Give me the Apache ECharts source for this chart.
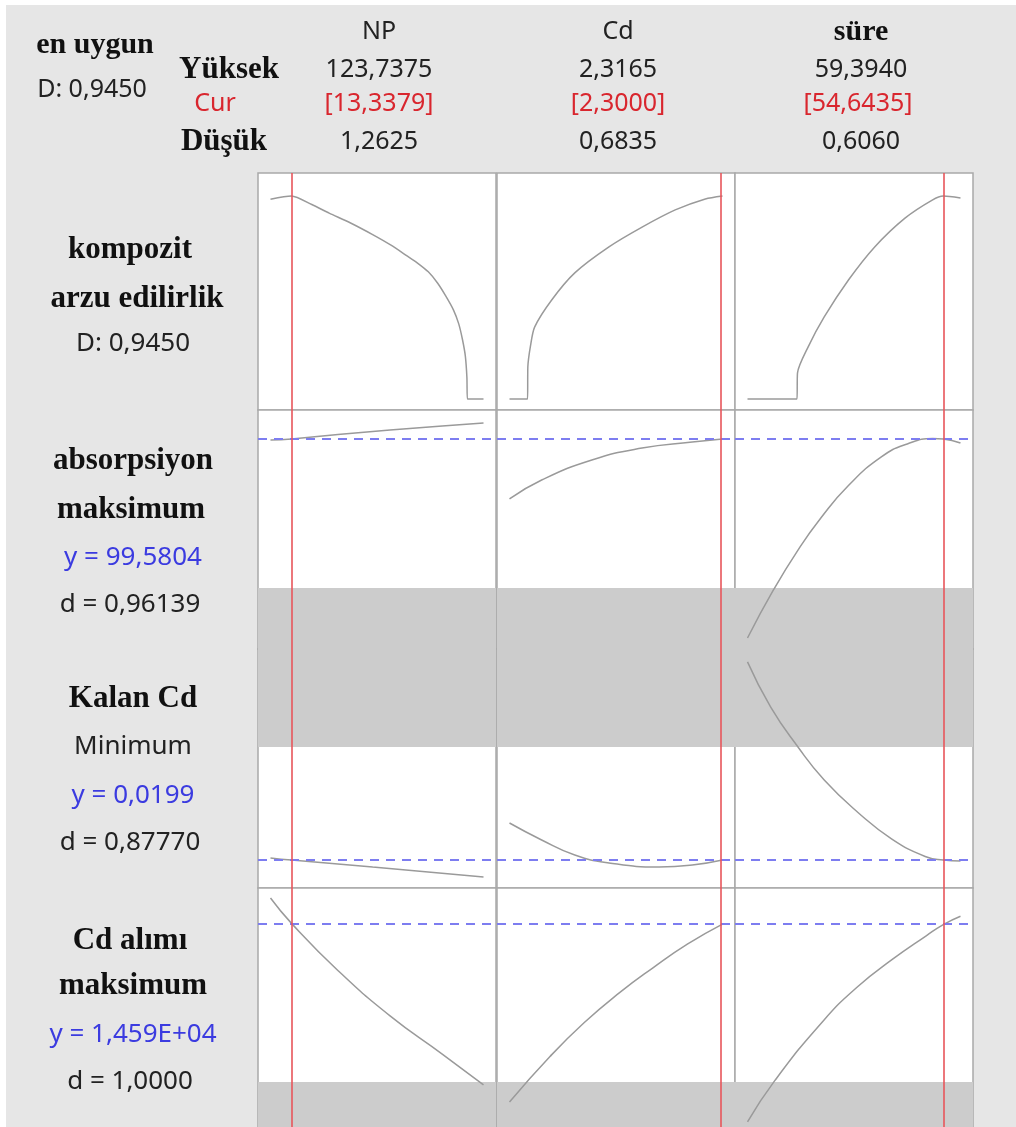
<!DOCTYPE html>
<html>
<head>
<meta charset="utf-8">
<script src="https://cdn.jsdelivr.net/npm/echarts@6/dist/echarts.min.js"></script>
<style>
  html, body { margin: 0; padding: 0; background: #e6e6e6; overflow: hidden; }
  #chart { width: 1016px; height: 1127px; }
</style>
</head>
<body>
<div id="chart"></div>
<script>
// faktörler
const factors = ['NP', 'Cd', 'süre']
const factorLow = [1.2625, 0.6835, 0.606]
const factorHigh = [123.7375, 2.3165, 59.394]
const factorCur = [13.3379, 2.3, 54.6435]
const highLabels = ['123,7375', '2,3165', '59,3940']
const curLabels = ['[13,3379]', '[2,3000]', '[54,6435]']
const lowLabels = ['1,2625', '0,6835', '0,6060']

// kompozit arzu edilirlik (D)
const compositeNP = [[1.26, 0.93], [13.34, 0.945], [25, 0.905], [35, 0.865], [47.3, 0.819], [60, 0.765], [70.3, 0.717], [80, 0.665], [85.8, 0.633], [92, 0.592], [97.3, 0.54], [102, 0.48], [106.5, 0.414], [109.5, 0.35], [111.7, 0.275], [113.3, 0.2], [114.2, 0.1], [114.5, 0], [123.74, 0]]
const compositeCd = [[0.6835, 0], [0.822, 0], [0.824, 0.149], [0.845, 0.25], [0.876, 0.335], [1.007, 0.461], [1.184, 0.587], [1.446, 0.708], [1.7, 0.8], [1.954, 0.88], [2.185, 0.931], [2.3165, 0.945]]
const compositeSure = [[0.606, 0], [14.26, 0], [14.4, 0.121], [17.32, 0.242], [21.78, 0.382], [28.47, 0.554], [35.71, 0.708], [44.07, 0.842], [51.59, 0.926], [54.64, 0.945], [59.39, 0.936]]

// absorpsiyon (hücre yüksekliğine göre)
const absorpNP = [[1.26, 0.874], [13.34, 0.879], [40, 0.897], [70, 0.916], [100, 0.933], [123.74, 0.946]]
const absorpCd = [[0.6835, 0.628], [0.93, 0.707], [1.315, 0.791], [1.7, 0.841], [2.085, 0.866], [2.3165, 0.879]]
const absorpSure = [[0.606, 0.046], [7.84, 0.249], [14.54, 0.414], [20.95, 0.55], [28.47, 0.684], [37.64, 0.805], [44.7, 0.858], [51.75, 0.881], [54.64, 0.879], [59.39, 0.862]]
const absorpCur = 0.879
const absorpBand = [0, 0.255]

// kalan Cd
const kalanNP = [[1.26, 0.126], [13.34, 0.117], [60, 0.088], [123.74, 0.046]]
const kalanCd = [[0.6835, 0.272], [0.93, 0.201], [1.184, 0.138], [1.446, 0.105], [1.831, 0.088], [2.085, 0.096], [2.3165, 0.117]]
const kalanSure = [[0.606, 0.946], [7.01, 0.757], [14.54, 0.59], [21.78, 0.452], [31.25, 0.314], [40.45, 0.205], [49.64, 0.132], [54.64, 0.117], [59.39, 0.113]]
const kalanCur = 0.117
const kalanBand = [0.59, 1]

// Cd alımı
const alimNP = [[1.26, 0.958], [13.34, 0.852], [40, 0.655], [70, 0.465], [100, 0.305], [123.74, 0.176]]
const alimCd = [[0.6835, 0.105], [0.994, 0.295], [1.255, 0.436], [1.525, 0.561], [1.786, 0.667], [2.047, 0.765], [2.3165, 0.849]]
const alimSure = [[0.606, 0.021], [8.13, 0.194], [21.5, 0.444], [30.99, 0.587], [40.47, 0.7], [49.93, 0.8], [54.64, 0.847], [59.39, 0.882]]
const alimCur = 0.849
const alimBand = [0, 0.188]

const curves = [
  [compositeNP, compositeCd, compositeSure],
  [absorpNP, absorpCd, absorpSure],
  [kalanNP, kalanCd, kalanSure],
  [alimNP, alimCd, alimSure]
]
const rowCur = [null, absorpCur, kalanCur, alimCur]
const rowBand = [null, absorpBand, kalanBand, alimBand]

// sol etiketler
const rowLabels = [
  [['kompozit', 'b', 130, 250], ['arzu edilirlik', 'b', 137, 299], ['D: 0,9450', 'k', 133, 344]],
  [['absorpsiyon', 'b', 133, 461], ['maksimum', 'b', 131, 510], ['y = 99,5804', 'blue', 133, 558], ['d = 0,96139', 'k', 130, 605]],
  [['Kalan Cd', 'b', 133, 699], ['Minimum', 'k', 133, 747], ['y = 0,0199', 'blue', 133, 796], ['d = 0,87770', 'k', 130, 843]],
  [['Cd alımı', 'b', 130, 941], ['maksimum', 'b', 133, 986], ['y = 1,459E+04', 'blue', 133, 1035], ['d = 1,0000', 'k', 130, 1082]]
]

const rowTops = [173, 410, 649, 888]
const rowH = [237, 239, 239, 239]
const colLefts = [258, 497, 735]
const colW = 238
const colX = [379, 618, 861]

const serif = '"Liberation Serif", "DejaVu Serif", serif'
const sans = '"Noto Sans", "Open Sans", sans-serif'
const red = '#d9262e'
const blue = '#3b3be0'

const grids = []
const xAxes = []
const yAxes = []
const series = []

for (let r = 0; r < 4; r++) {
  for (let c = 0; c < 3; c++) {
    const i = r * 3 + c
    grids.push({
      left: colLefts[c], top: rowTops[r], width: colW, height: rowH[r],
      show: true, backgroundColor: '#ffffff', borderColor: '#a9a9a9', borderWidth: 1.5
    })
    const pad = (factorHigh[c] - factorLow[c]) * 12.5 / 213
    xAxes.push({ type: 'value', gridIndex: i, min: factorLow[c] - pad, max: factorHigh[c] + pad, show: false })
    yAxes.push(r === 0
      ? { type: 'value', gridIndex: i, min: -0.0507, max: 1.0518, show: false }
      : { type: 'value', gridIndex: i, min: 0, max: 1, show: false })

    const lines = [{ xAxis: factorCur[c], lineStyle: { color: '#e8555b', width: 1.6, type: 'solid' } }]
    if (rowCur[r] !== null) {
      lines.unshift({ yAxis: rowCur[r], lineStyle: { color: '#7d7df0', width: 2, type: [9, 7] } })
    }
    const s = {
      type: 'line', xAxisIndex: i, yAxisIndex: i, data: curves[r][c],
      showSymbol: false, smooth: r === 0 ? 0.25 : 0.5, silent: true,
      lineStyle: { color: '#9a9a9a', width: 1.5 },
      markLine: { symbol: ['none', 'none'], silent: true, label: { show: false }, data: lines },
      z: 3
    }
    if (rowBand[r]) {
      s.markArea = {
        silent: true,
        itemStyle: { color: '#cccccc' },
        data: [[{ yAxis: rowBand[r][0] }, { yAxis: rowBand[r][1] }]]
      }
    }
    series.push(s)
  }
}

const txt = (text, x, y, font, color, size, weight) => ({
  type: 'text', x: x, y: y, silent: true, z: 10,
  style: {
    text: text, fill: color, font: (weight || 'normal') + ' ' + size + 'px ' + font,
    textAlign: 'center', textVerticalAlign: 'middle'
  }
})

const graphic = [
  { type: 'rect', shape: { x: 0, y: 0, width: 1016, height: 5 }, style: { fill: '#ffffff' }, silent: true },
  { type: 'rect', shape: { x: 0, y: 0, width: 6, height: 1127 }, style: { fill: '#ffffff' }, silent: true },
  txt('en uygun', 95, 45, serif, '#111', 30, 'bold'),
  txt('D: 0,9450', 92, 90, sans, '#222', 25),
  txt('Yüksek', 229, 70, serif, '#111', 31, 'bold'),
  txt('Cur', 215, 104, sans, red, 25),
  txt('Düşük', 224, 142, serif, '#111', 31, 'bold')
]
factors.forEach((f, c) => {
  graphic.push(c === 2 ? txt(f, colX[c], 32, serif, '#111', 30, 'bold') : txt(f, colX[c], 32, sans, '#222', 25))
  graphic.push(txt(highLabels[c], colX[c], 70, sans, '#222', 25))
  graphic.push(txt(curLabels[c], colX[c] - (c === 2 ? 3 : 0), 104, sans, red, 25))
  graphic.push(txt(lowLabels[c], colX[c], 142, sans, '#222', 25))
})
rowLabels.forEach(row => row.forEach(([t, kind, x, y]) => {
  if (kind === 'b') graphic.push(txt(t, x, y, serif, '#111', 31, 'bold'))
  else graphic.push(txt(t, x, y, sans, kind === 'blue' ? blue : '#222', 26))
}))

const chart = echarts.init(document.getElementById('chart'))
chart.setOption({
  backgroundColor: '#e6e6e6',
  animation: false,
  grid: grids,
  xAxis: xAxes,
  yAxis: yAxes,
  series: series,
  graphic: graphic
})
</script>
</body>
</html>
